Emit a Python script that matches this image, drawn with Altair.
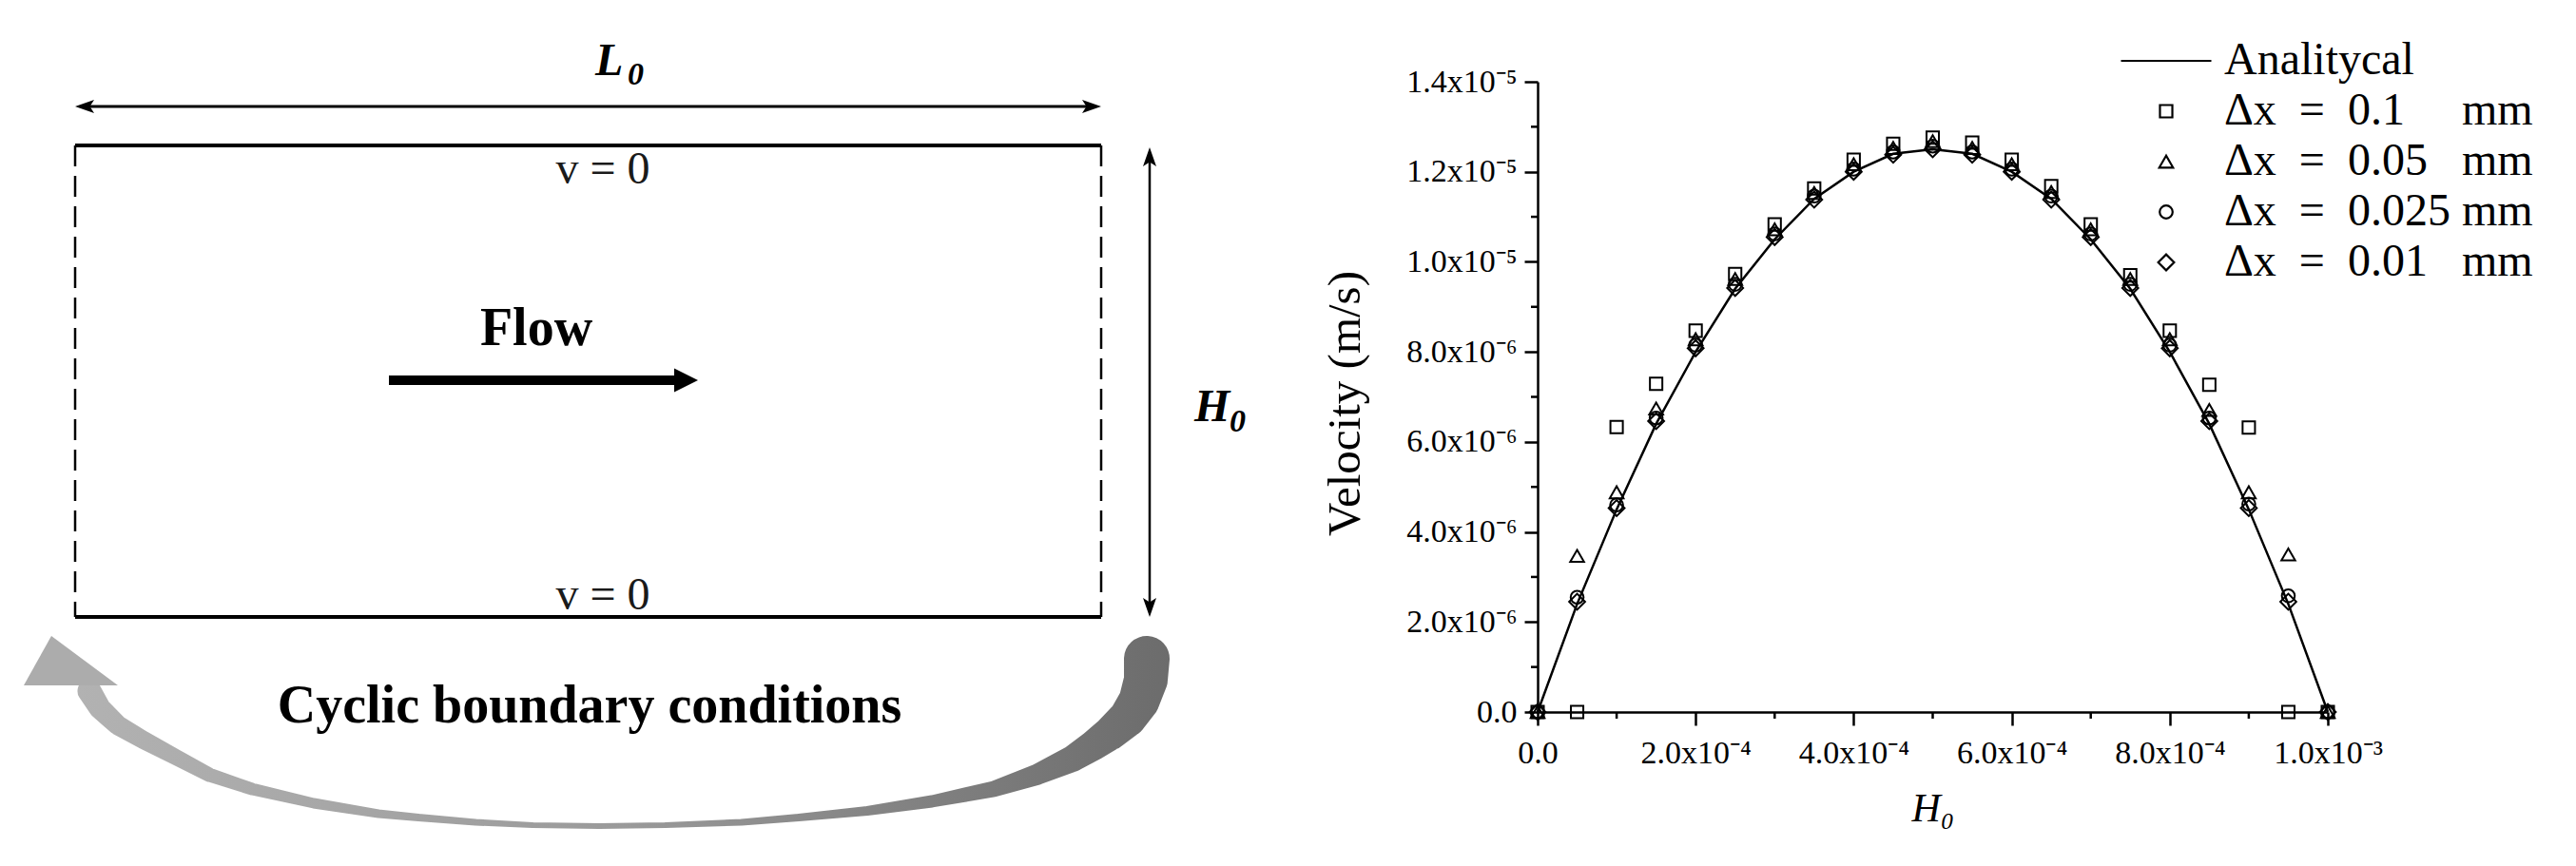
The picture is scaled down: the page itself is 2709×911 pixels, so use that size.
import json
import altair as alt
import pandas as pd

FONT = "Liberation Serif"

# ---------------- right panel: velocity profile ----------------
h_mm = [0.0, 0.05, 0.10, 0.15, 0.20, 0.25, 0.30, 0.35, 0.40, 0.45, 0.50,
        0.55, 0.60, 0.65, 0.70, 0.75, 0.80, 0.85, 0.90, 0.95, 1.00]
# velocities in units of 1e-6 m/s
analytical = [0.0, 2.4, 4.5, 6.4, 8.0, 9.4, 10.5, 11.4, 12.0, 12.4, 12.5,
              12.4, 12.0, 11.4, 10.5, 9.4, 8.0, 6.4, 4.5, 2.4, 0.0]
dx_0100 = [0.0, 0.0, 6.33, 7.29, 8.47, 9.73, 10.83, 11.63, 12.27, 12.62, 12.76,
           12.65, 12.27, 11.68, 10.83, 9.70, 8.47, 7.27, 6.32, 0.0, 0.0]
dx_0050 = [0.0, 3.47, 4.88, 6.74, 8.28, 9.62, 10.72, 11.53, 12.17, 12.53, 12.68,
           12.53, 12.17, 11.55, 10.72, 9.62, 8.28, 6.71, 4.88, 3.50, 0.0]
dx_0025 = [0.0, 2.55, 4.60, 6.53, 8.15, 9.50, 10.62, 11.46, 12.06, 12.44, 12.57,
           12.44, 12.06, 11.46, 10.62, 9.50, 8.15, 6.53, 4.62, 2.58, 0.0]
dx_0010 = [0.0, 2.45, 4.53, 6.46, 8.08, 9.42, 10.55, 11.38, 12.00, 12.38, 12.50,
           12.38, 12.00, 11.38, 10.55, 9.42, 8.08, 6.46, 4.53, 2.45, 0.0]

series_names = ["Analitycal",
                "\u0394x\u2002=\u20020.1\u2007\u2007 mm",
                "\u0394x\u2002=\u20020.05\u2007 mm",
                "\u0394x\u2002=\u20020.025 mm",
                "\u0394x\u2002=\u20020.01\u2007 mm"]
series_shapes = ["stroke", "square", "triangle-up", "circle", "diamond"]
series_sizes = [9025, 170, 210, 185, 280]

y_tick_values = [0, 2, 4, 6, 8, 10, 12, 14]
y_tick_labels = ["0.0", "2.0x10\u207b\u2076", "4.0x10\u207b\u2076", "6.0x10\u207b\u2076",
                 "8.0x10\u207b\u2076", "1.0x10\u207b\u2075", "1.2x10\u207b\u2075", "1.4x10\u207b\u2075"]
y_minor = [1, 3, 5, 7, 9, 11, 13]
x_tick_values = [0.0, 0.2, 0.4, 0.6, 0.8, 1.0]
x_tick_labels = ["0.0", "2.0x10\u207b\u2074", "4.0x10\u207b\u2074", "6.0x10\u207b\u2074",
                 "8.0x10\u207b\u2074", "1.0x10\u207b\u00b3"]
x_minor = [0.1, 0.3, 0.5, 0.7, 0.9]

# ---------------- left panel: schematic (reference pixel units) ----------------
seg_x1 = [79, 79, 92, 1209, 409]
seg_y1 = [150, 646, 109, 166, 397]
seg_x2 = [1158, 1158, 1145, 1209, 712]
seg_y2 = [150, 646, 109, 632, 397]
seg_w = [4, 4, 3, 2.5, 10]

dash_x = [79, 1158]
dash_y1 = [150, 150]
dash_y2 = [646, 646]

head_x = [89, 1148, 1209, 1209]
head_y = [109, 109, 162, 636]
head_angle = [180, 0, 270, 90]

flow_head_x = [721.5]
flow_head_y = [397]

txt_bi = ["L", "0", "H", "0"]
txt_bi_x = [626, 660, 1256, 1293]
txt_bi_y = [76, 86, 440, 451]
txt_bi_s = [48, 34, 48, 34]

txt_reg = ["v = 0", "v = 0"]
txt_reg_x = [634, 634]
txt_reg_y = [190, 638]

txt_bold = ["Flow", "Cyclic boundary conditions"]
txt_bold_x = [564, 620]
txt_bold_y = [360, 757]

arc_x = [1206, 1205, 1198, 1186, 1168, 1150, 1128, 1090, 1045, 980, 912, 840, 780, 700,
         630, 560, 500, 440, 398, 330, 265, 220, 184, 150, 124, 105, 94]
arc_y = [690, 712, 734, 752, 768, 781, 795, 812, 827, 840, 850, 857, 862, 865,
         866, 865, 862, 857, 853, 842, 827, 812, 793, 775, 760, 742, 724]
arc_w = [48, 46, 43, 40, 36, 32, 28, 22, 17, 13, 10, 8, 7, 6,
         6, 6, 7, 8, 9, 11, 13, 15, 17, 19, 21, 23, 25]

tip_x = [25, 54, 124]
tip_y = [718, 666, 718]
tip_base = [718, 718, 718]

# ---------------- build left panel ----------------
LW, LH = 1330, 895
xs_left = alt.Scale(domain=[8, 8 + LW], nice=False, zero=False)
ys_left = alt.Scale(domain=[8, 8 + LH], nice=False, zero=False, reverse=True)


def LX(f):
    return alt.X(f, type="quantitative", scale=xs_left, axis=None)


def LY(f):
    return alt.Y(f, type="quantitative", scale=ys_left, axis=None)


seg_df = pd.DataFrame({"x1": seg_x1, "y1": seg_y1, "x2": seg_x2, "y2": seg_y2, "w": seg_w})
segs = alt.Chart(seg_df).mark_rule(color="black").encode(
    x=LX("x1"), y=LY("y1"), x2="x2:Q", y2="y2:Q",
    strokeWidth=alt.StrokeWidth("w:Q", scale=None))

dash_df = pd.DataFrame({"x": dash_x, "y1": dash_y1, "y2": dash_y2})
dashes = alt.Chart(dash_df).mark_rule(color="black", strokeWidth=2.5, strokeDash=[22, 10]).encode(
    x=LX("x"), y=LY("y1"), y2="y2:Q")

head_df = pd.DataFrame({"x": head_x, "y": head_y, "a": head_angle})
heads = alt.Chart(head_df).mark_point(
    shape="M1,0L-1,-0.7L-0.55,0L-1,0.7Z", size=400, filled=True, color="black",
    opacity=1, strokeWidth=0).encode(x=LX("x"), y=LY("y"), angle=alt.Angle("a:Q", scale=None))

fh_df = pd.DataFrame({"x": flow_head_x, "y": flow_head_y})
fhead = alt.Chart(fh_df).mark_point(
    shape="M1,0L-1,-1L-1,1Z", size=625, filled=True, color="black",
    opacity=1, strokeWidth=0).encode(x=LX("x"), y=LY("y"))

bi_df = pd.DataFrame({"t": txt_bi, "x": txt_bi_x, "y": txt_bi_y, "s": txt_bi_s})
t_bi = alt.Chart(bi_df).mark_text(font=FONT, fontWeight="bold", fontStyle="italic",
                                  align="left", baseline="alphabetic", color="black").encode(
    x=LX("x"), y=LY("y"), text="t:N", size=alt.Size("s:Q", scale=None))

reg_df = pd.DataFrame({"t": txt_reg, "x": txt_reg_x, "y": txt_reg_y})
t_reg = alt.Chart(reg_df).mark_text(font=FONT, fontSize=48, align="center",
                                    baseline="alphabetic", color="#1a1a1a").encode(
    x=LX("x"), y=LY("y"), text="t:N")

bold_df = pd.DataFrame({"t": txt_bold, "x": txt_bold_x, "y": txt_bold_y})
t_bold = alt.Chart(bold_df).mark_text(font=FONT, fontSize=56, fontWeight="bold", align="center",
                                      baseline="alphabetic", color="black").encode(
    x=LX("x"), y=LY("y"), text="t:N")

arc_df = pd.DataFrame({"i": list(range(len(arc_x))), "x": arc_x, "y": arc_y, "w": arc_w})
gradient = {"gradient": "linear", "x1": 0, "x2": 1, "y1": 0, "y2": 0,
            "stops": [{"offset": 0, "color": "#b2b2b2"}, {"offset": 0.5, "color": "#9a9a9a"},
                      {"offset": 1, "color": "#6c6c6c"}]}
arc = alt.Chart(arc_df).mark_trail(color=gradient).encode(
    x=LX("x"), y=LY("y"), size=alt.Size("w:Q", scale=None), order=alt.Order("i:Q"))

tip_df = pd.DataFrame({"x": tip_x, "y": tip_y, "b": tip_base})
tip = alt.Chart(tip_df).mark_area(color="#acacac").encode(x=LX("x"), y=LY("y"), y2="b:Q")

left = alt.layer(arc, tip, segs, dashes, heads, fhead, t_bi, t_reg, t_bold).properties(
    width=LW, height=LH)

# ---------------- build right panel ----------------
RW, RH = 831, 663
xscale = alt.Scale(domain=[0, 1], nice=False, zero=False)
yscale = alt.Scale(domain=[0, 14], nice=False, zero=False)

x_expr = json.dumps(x_tick_labels, ensure_ascii=False) + "[round(datum.value / 0.2)]"
y_expr = json.dumps(y_tick_labels, ensure_ascii=False) + "[round(datum.value / 2)]"

axis_common = dict(tickSize=14, tickWidth=2.5, tickColor="black", domainWidth=2.5,
                   domainColor="black", labelFont=FONT, labelFontSize=34, labelColor="black",
                   grid=False, titleFont=FONT, titleColor="black", titleFontWeight="normal",
                   labelOverlap=False, labelFlush=False)
xaxis = alt.Axis(values=x_tick_values, labelExpr=x_expr, labelPadding=12,
                 titleFontSize=42, titleFontStyle="italic", titleY=114,
                 titleBaseline="alphabetic", **axis_common)
yaxis = alt.Axis(values=y_tick_values, labelExpr=y_expr, labelPadding=8,
                 titleFontSize=49, titleX=-178, titleY=338, **axis_common)

line_df = pd.DataFrame({"h": h_mm, "v": analytical})
line = alt.Chart(line_df).mark_line(color="black", strokeWidth=2.5).encode(
    x=alt.X("h:Q", scale=xscale, axis=xaxis, title="H\u2080"),
    y=alt.Y("v:Q", scale=yscale, axis=yaxis, title="Velocity (m/s)"))

rows = []
for name, vals in zip(series_names[1:], [dx_0100, dx_0050, dx_0025, dx_0010]):
    for h, v in zip(h_mm, vals):
        rows.append({"h": h, "v": v, "series": name})
pts_df = pd.DataFrame(rows)

legend = alt.Legend(title=None, orient="none", legendX=612, legendY=-71, labelFont=FONT,
                    labelFontSize=48, labelColor="black", labelOffset=12, labelLimit=600,
                    rowPadding=5, symbolStrokeColor="black", symbolStrokeWidth=2.2)
pts = alt.Chart(pts_df).mark_point(filled=False, color="black", strokeWidth=2, opacity=1).encode(
    x=alt.X("h:Q", scale=xscale),
    y=alt.Y("v:Q", scale=yscale),
    shape=alt.Shape("series:N", scale=alt.Scale(domain=series_names, range=series_shapes),
                    legend=legend),
    size=alt.Size("series:N",
                  scale=alt.Scale(type="ordinal", domain=series_names, range=series_sizes),
                  legend=legend))

xm_df = pd.DataFrame({"h": x_minor})
xminor = alt.Chart(xm_df).mark_rule(color="black", strokeWidth=2.5).encode(
    x=alt.X("h:Q", scale=xscale), y=alt.value(RH), y2=alt.value(RH + 7))
ym_df = pd.DataFrame({"v": y_minor})
yminor = alt.Chart(ym_df).mark_rule(color="black", strokeWidth=2.5).encode(
    y=alt.Y("v:Q", scale=yscale), x=alt.value(-7), x2=alt.value(0))

right = alt.layer(line, xminor, yminor, pts).properties(width=RW, height=RH)

spacer = alt.Chart(pd.DataFrame({"s": [0]})).mark_point(opacity=0).encode(
    x=alt.value(0), y=alt.value(0)).properties(width=RW, height=75)

right_col = alt.vconcat(spacer, right, spacing=0, bounds="flush").resolve_scale(
    shape="independent", size="independent")

chart = alt.hconcat(left, right_col, spacing=1609 - LW, bounds="flush").resolve_scale(
    shape="independent", size="independent").properties(
    padding=0, background="white").configure_view(stroke=None)

chart.save("out.html", embed_options={"renderer": "svg", "actions": False})
